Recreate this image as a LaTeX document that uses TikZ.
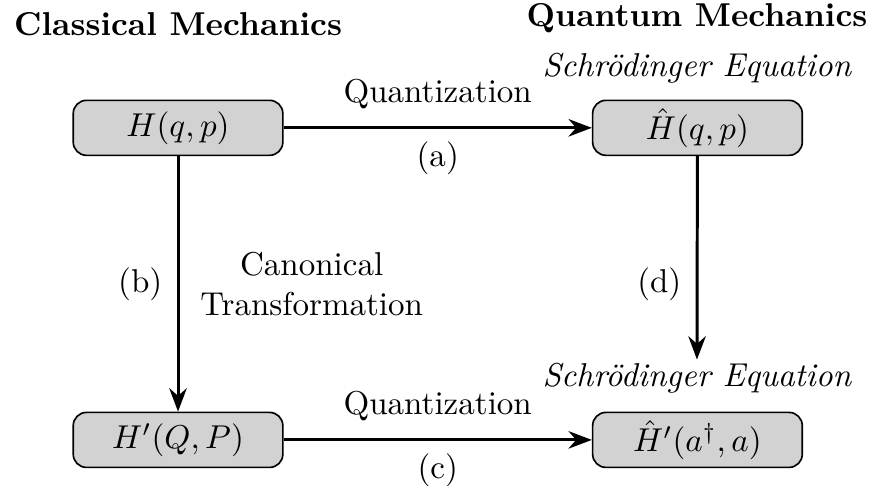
\documentclass[tikz,border=0pt]{standalone}
\usepackage{fontspec}
\usepackage{amsmath}
\usepackage{tikz}
\usetikzlibrary{arrows.meta, positioning}
\tikzset{
  %% ---- boxes ----
  hambox/.style  = {rectangle, rounded corners=4pt,
                    draw=black, line width=0.5pt,
                    fill=gray!35, minimum width=2.23cm,
                    minimum height=0.585cm, inner sep=0pt},
  title/.style   = {font=\bfseries},
  eqlabel/.style = {font=\itshape, inner sep=2pt},
  %% ---- arrows ----
  maparrow/.style = {-Stealth, line width=0.9pt},
}

\begin{document}
\begin{tikzpicture}
  \useasboundingbox (0,0) rectangle (9.298,-5.170);

  %% Titles
  \node[title] (classic) at (1.894,-0.255) {Classical Mechanics};
  \node[title] (quantum) at (7.415,-0.19) {Quantum Mechanics};

  %% Hamiltonians
  \node[hambox] (H)     at (1.894,-1.36) {$H(q,p)$};
  \node[hambox] (Hhat)  at (7.42,-1.36)  {$\hat{H}(q,p)$};
  \node[hambox] (Hp)    at (1.894,-4.68) {$H'(Q,P)$};
  \node[hambox] (Hhatp) at (7.42,-4.68)  {$\hat{H}'(a^{\dagger},a)$};

  %% Schroedinger labels
  \node[eqlabel] (schtop) at (7.415,-0.723) {Schrödinger Equation};
  \node[eqlabel] (schbot) at (7.415,-4.02)  {Schrödinger Equation};

  %% Maps
  \draw[maparrow] (H) -- (Hhat)
    node[midway, above=2pt] {Quantization}
    node[midway, below=0.5pt] {(a)};
  \draw[maparrow] (H) -- (Hp)
    node[midway, left=1pt] {(b)}
    node[midway, right=3pt, align=center] {Canonical\\Transformation};
  \draw[maparrow] (Hp) -- (Hhatp)
    node[midway, above=2pt] {Quantization}
    node[midway, below=0.5pt] {(c)};
  \draw[maparrow] (Hhat) -- ([yshift=-1.2pt]schbot.north)
    node[pos=0.63, left=1pt] {(d)};

\end{tikzpicture}
\end{document}
